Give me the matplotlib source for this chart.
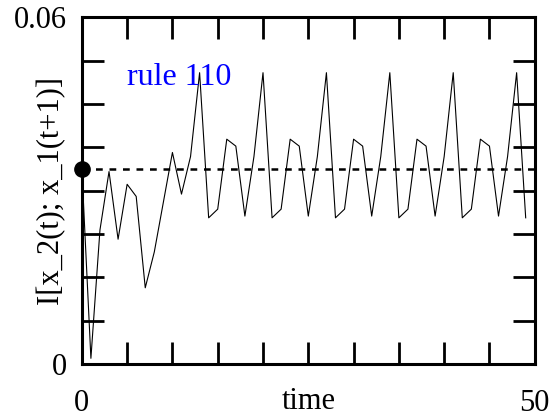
import matplotlib
matplotlib.use("Agg")
import matplotlib.pyplot as plt

# mutual information I[x_2(t); x_1(t+1)] for rule 110, one value per time step
time = list(range(50))
info = [
    0.0338, 0.0010, 0.0232, 0.0333, 0.0216, 0.0311, 0.0290, 0.0132, 0.0194, 0.0280,
    0.0366, 0.0294, 0.0359, 0.0504, 0.0253, 0.0268, 0.0389, 0.0377, 0.0256, 0.0359,
    0.0504, 0.0253, 0.0268, 0.0389, 0.0377, 0.0256, 0.0359, 0.0504, 0.0253, 0.0268,
    0.0389, 0.0377, 0.0256, 0.0359, 0.0504, 0.0253, 0.0268, 0.0389, 0.0377, 0.0256,
    0.0359, 0.0504, 0.0253, 0.0268, 0.0389, 0.0377, 0.0256, 0.0359, 0.0504, 0.0253,
]
baseline = 0.0338

x_ticks = [0, 5, 10, 15, 20, 25, 30, 35, 40, 45, 50]
x_ticklabels = ["0", "", "", "", "", "", "", "", "", "", "50"]
y_ticks = [0, 0.0075, 0.015, 0.0225, 0.03, 0.0375, 0.045, 0.0525, 0.06]
y_ticklabels = ["0", "", "", "", "", "", "", "", "0.06"]

plt.rcParams["font.family"] = ["Liberation Serif", "DejaVu Serif"]
plt.rcParams["font.size"] = 22

fig = plt.figure(figsize=(5.53, 4.19), dpi=100)
ax = fig.add_axes([0.148, 0.131, 0.819, 0.828])

ax.plot(time, info, color="black", lw=0.8)
ax.plot([0, 50], [baseline, baseline], color="black", lw=1.8, ls=(0, (2.7, 2.7)))
ax.plot([0], [baseline], "o", color="black", ms=11, clip_on=False, zorder=5)

ax.text(10.8, 0.0495, "rule 110", color="blue", ha="center", va="center", fontsize=23)

ax.set_xlim(0, 50)
ax.set_ylim(0, 0.06)
ax.set_xticks(x_ticks)
ax.set_xticklabels(x_ticklabels)
ax.set_yticks(y_ticks)
ax.set_yticklabels(y_ticklabels)

ax.tick_params(direction="in", length=16, width=2, top=True, right=True)
ax.tick_params(axis="x", pad=18)
ax.tick_params(axis="y", pad=11)
for s in ax.spines.values():
    s.set_linewidth(2.2)

ax.set_xlabel("time")
ax.set_ylabel("I[x_2(t); x_1(t+1)]")
ax.xaxis.set_label_coords(0.5, -0.065)
ax.yaxis.set_label_coords(-0.035, 0.5)

fig.savefig("out.png", dpi=100)
